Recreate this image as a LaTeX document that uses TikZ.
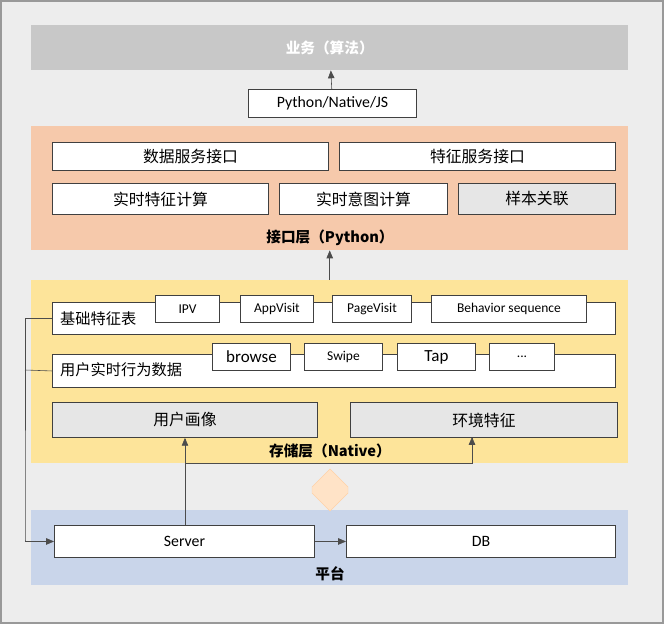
\documentclass[tikz,border=0pt]{standalone}
\usepackage{fontspec}
\setmainfont{Carlito}
\newfontfamily\cjk{Noto Sans CJK SC}
\usetikzlibrary{arrows,shapes,positioning,backgrounds,fit}
\definecolor{panelgray}{HTML}{C8C8C8}
\definecolor{panelorange}{HTML}{F6C9AB}
\definecolor{panelyellow}{HTML}{FDE49A}
\definecolor{panelblue}{HTML}{C9D5EA}
\definecolor{boxgray}{HTML}{E6E6E6}
\tikzset{arrows={-triangle 45}}
\tikzset{
  box/.style={draw=black!75, line width=0.8pt, fill=white, font=\fontsize{13.5}{15}\selectfont, inner sep=0pt},
  sbox/.style={box, font=\fontsize{11.5}{13}\selectfont},
  gbox/.style={box, fill=boxgray},
  layer/.style={draw=none, inner sep=0pt},
  title/.style={font=\cjk\bfseries\fontsize{12.5}{14}\selectfont, inner sep=0pt},
  link/.style={black!70, line width=0.5pt}
}
\newcommand{\boxat}[6]{\node[#1, minimum width=#4*0.03cm-#2*0.03cm, minimum height=#5*0.03cm-#3*0.03cm, anchor=north west] (#6) at (#2,#3)}
\begin{document}
\begin{tikzpicture}[x=0.03cm, y=-0.03cm]
  \fill[black!7] (0,0) rectangle (664,624);
  \draw[black!40, line width=1pt] (1,1) rectangle (663,623);
  \useasboundingbox (0,0) rectangle (664,624);
  % top
  \boxat{layer, fill=panelgray}{31}{25}{628}{70}{algo} {};
  \node[title, white] at (algo) {业务（算法）};
  \boxat{box}{248}{89}{416}{117}{api} {Python/Native/JS};
  \draw[link] (api) -- (algo);
  % interface layer
  \boxat{layer, fill=panelorange}{31}{126}{628}{250}{iface} {};
  \node[title] at (330,238) {接口层（Python）};
  \boxat{box}{52}{142}{328}{170}{dsi} {\cjk 数据服务接口};
  \boxat{box}{339}{142}{615}{170}{fsi} {\cjk 特征服务接口};
  \boxat{box}{52}{183}{268}{214}{rtf} {\cjk 实时特征计算};
  \boxat{box}{279}{183}{447}{214}{rti} {\cjk 实时意图计算};
  \boxat{gbox}{458}{183}{615}{214}{smp} {\cjk 样本关联};
  % storage layer
  \boxat{layer, fill=panelyellow}{31}{280}{628}{463}{store} {};
  \node[title] at (330,451) {存储层（Native）};
  \draw[link] (store.north) -- (iface.south);
  \boxat{box}{52}{302}{615}{334}{base} {};
  \node[font=\cjk\fontsize{13}{15}\selectfont, anchor=west, inner sep=0pt] (basel) at (60,319) {基础特征表};
  \boxat{sbox}{155}{295}{219}{322}{ipv} {IPV};
  \boxat{sbox}{240}{295}{313}{322}{app} {AppVisit};
  \boxat{sbox}{332}{295}{411}{322}{page} {PageVisit};
  \boxat{sbox}{431}{295}{586}{322}{beh} {Behavior sequence};
  \boxat{box}{52}{354}{615}{387}{act} {};
  \node[font=\cjk\fontsize{13}{15}\selectfont, anchor=west, inner sep=0pt] (actl) at (60,370) {用户实时行为数据};
  \boxat{box, font=\fontsize{14.5}{16}\selectfont}{212}{343}{290}{370}{brw} {browse};
  \boxat{sbox}{304}{343}{382}{370}{swp} {Swipe};
  \boxat{box, font=\fontsize{14.5}{16}\selectfont}{397}{343}{475}{370}{tap} {Tap};
  \boxat{sbox}{489}{343}{554}{370}{etc} {...};
  \boxat{gbox}{52}{402}{317}{437}{user} {\cjk 用户画像};
  \boxat{gbox}{350}{402}{617}{437}{env} {\cjk 环境特征};
  % platform
  \boxat{layer, fill=panelblue}{31}{510}{628}{585}{plat} {};
  \node[title] at (330,574) {平台};
  \boxat{box}{54}{525}{314}{557}{srv} {Server};
  \boxat{box}{346}{525}{615}{557}{db} {DB};
  \draw[link] (srv) -- (db);
  \draw[link] (srv.north -| user.south) -- (user.south);
  \coordinate (fork) at (user.south |- store.south);
  \coordinate (envin) at (472,437);
  \draw[link] (fork) -| (envin);
  \draw[link] (base.west) -| (25,540) |- (srv.west);
  \draw[link, -] (act.west) -- (25,370);
  \node[double arrow, draw=orange!35, fill=orange!22, shape border rotate=90, minimum height=42*0.03cm,
        minimum width=36*0.03cm, double arrow head extend=0pt, double arrow tip angle=90,
        inner sep=0pt] (swap) at (330,490) {};
\end{tikzpicture}
\end{document}
